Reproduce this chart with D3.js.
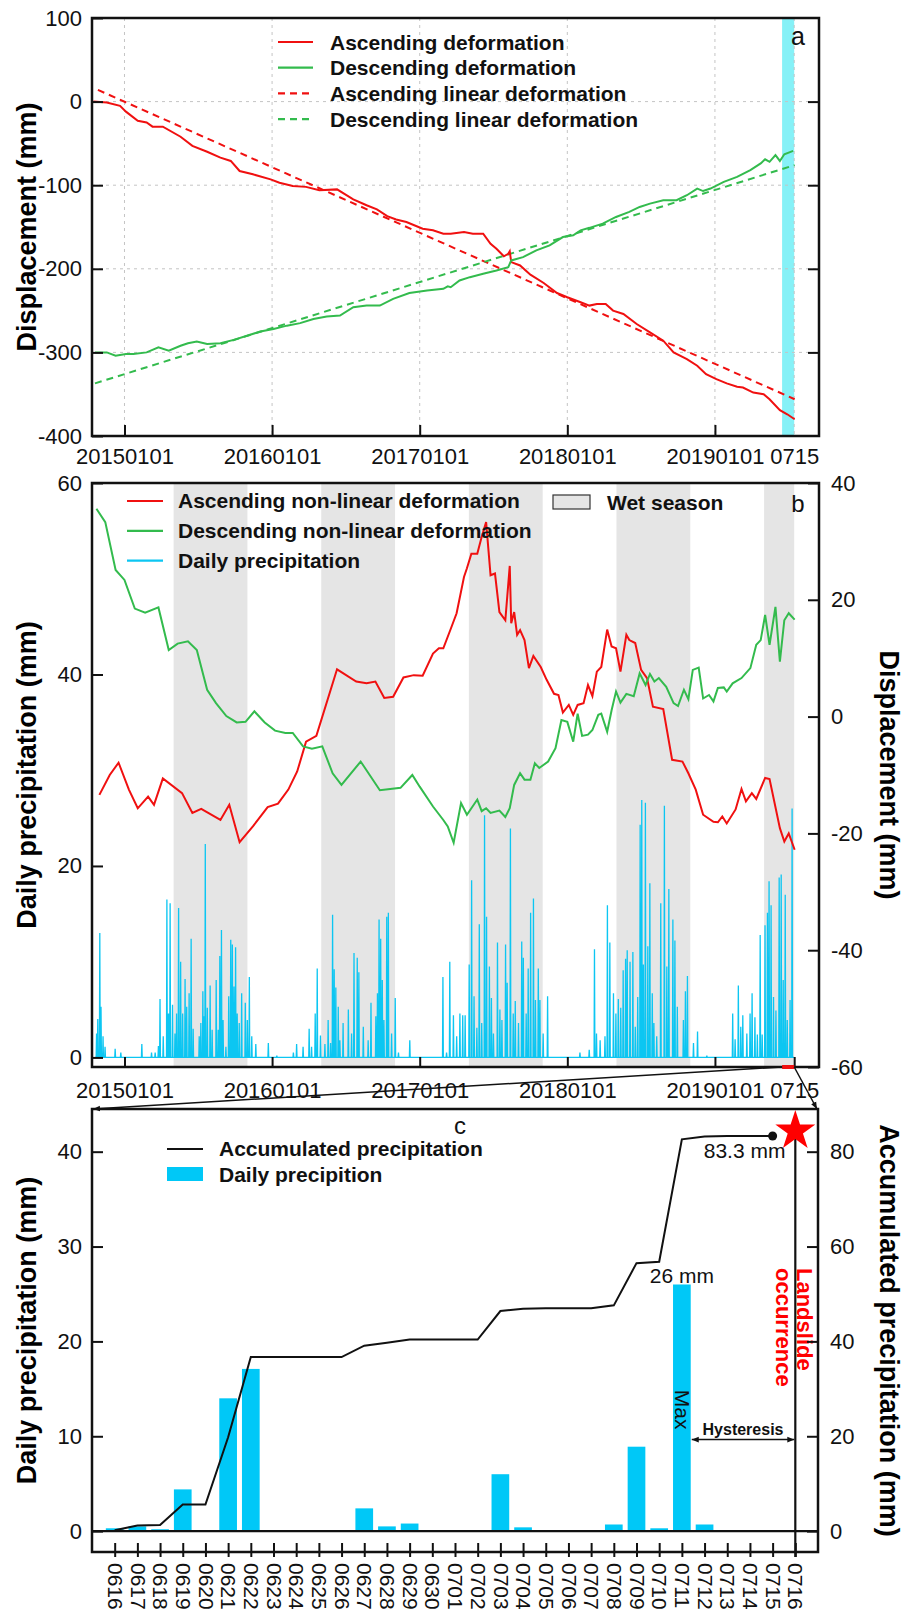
<!DOCTYPE html>
<html>
<head>
<meta charset="utf-8">
<script src="https://cdn.jsdelivr.net/npm/d3@7"></script>
<style>
  body { margin: 0; background: #fff; }
  svg { display: block; }
</style>
</head>
<body>
<div id="chart"></div>
<script>
// ---------- data (x values are decimal years) ----------

// panel a: cumulative displacement (mm)
var ascDef = [[2014.79,0],[2014.88,-1],[2014.97,-5],[2015.01,-12],[2015.09,-23],[2015.15,-25],[2015.19,-30],[2015.26,-30],[2015.38,-42],[2015.46,-53],[2015.56,-60],[2015.65,-67],[2015.72,-71],[2015.78,-83],[2015.87,-87],[2015.99,-93],[2016.05,-97],[2016.14,-101],[2016.23,-102],[2016.32,-106],[2016.44,-105],[2016.55,-117],[2016.64,-124],[2016.71,-129],[2016.78,-137],[2016.84,-141],[2016.91,-144],[2017.02,-152],[2017.09,-154],[2017.16,-158],[2017.21,-158],[2017.30,-156],[2017.36,-158],[2017.43,-158],[2017.48,-170],[2017.52,-176],[2017.57,-185],[2017.60,-182],[2017.61,-179],[2017.62,-192],[2017.68,-196],[2017.75,-207],[2017.84,-217],[2017.93,-229],[2018.00,-234],[2018.09,-240],[2018.15,-244],[2018.20,-242],[2018.26,-242],[2018.31,-250],[2018.38,-254],[2018.47,-266],[2018.56,-276],[2018.65,-286],[2018.72,-300],[2018.81,-308],[2018.88,-316],[2018.94,-326],[2019.01,-332],[2019.08,-337],[2019.15,-341],[2019.19,-342],[2019.26,-348],[2019.33,-350],[2019.37,-356],[2019.44,-369],[2019.49,-374],[2019.54,-380]]
var descDef = [[2014.80,-300],[2014.88,-300],[2014.94,-304],[2015.01,-302],[2015.06,-302],[2015.15,-300],[2015.23,-294],[2015.30,-298],[2015.38,-292],[2015.43,-289],[2015.49,-287],[2015.56,-290],[2015.65,-289],[2015.74,-285],[2015.83,-280],[2015.92,-275],[2016.01,-272],[2016.10,-268],[2016.19,-265],[2016.28,-260],[2016.37,-257],[2016.46,-256],[2016.55,-246],[2016.64,-244],[2016.73,-244],[2016.82,-236],[2016.93,-229],[2017.05,-226],[2017.16,-224],[2017.19,-221],[2017.21,-222],[2017.27,-214],[2017.34,-210],[2017.43,-206],[2017.52,-202],[2017.60,-198],[2017.62,-190],[2017.70,-186],[2017.79,-178],[2017.88,-172],[2017.97,-162],[2018.04,-160],[2018.09,-154],[2018.15,-151],[2018.24,-146],[2018.33,-138],[2018.42,-132],[2018.49,-126],[2018.56,-122],[2018.65,-118],[2018.74,-118],[2018.81,-112],[2018.88,-104],[2018.92,-107],[2018.97,-104],[2019.06,-96],[2019.15,-90],[2019.24,-82],[2019.31,-74],[2019.34,-69],[2019.37,-72],[2019.41,-64],[2019.44,-71],[2019.47,-63],[2019.53,-59]]
var ascLinear = [[2014.82, 14], [2019.54, -356]]
var descLinear = [[2014.80, -337], [2019.54, -76]]
var slideWindow = [2019.455, 2019.537]   // 0616 - 0716

// panel b: non-linear deformation (mm, right axis)
var ascNonLin = [[2014.83,-13.4],[2014.90,-10.0],[2014.96,-7.9],[2015.03,-12.5],[2015.09,-15.7],[2015.16,-13.7],[2015.20,-15.1],[2015.26,-10.6],[2015.39,-13.1],[2015.46,-16.5],[2015.52,-15.8],[2015.65,-17.7],[2015.71,-15.1],[2015.78,-21.5],[2015.87,-18.8],[2015.97,-15.5],[2016.04,-14.9],[2016.11,-12.5],[2016.17,-9.4],[2016.23,-4.3],[2016.30,-3.3],[2016.44,8.1],[2016.57,6.0],[2016.64,5.7],[2016.70,6.0],[2016.76,3.2],[2016.82,3.4],[2016.89,6.7],[2016.96,7.1],[2017.02,7.0],[2017.09,10.8],[2017.13,11.7],[2017.16,11.7],[2017.21,15.0],[2017.25,17.7],[2017.30,23.9],[2017.32,25.4],[2017.35,27.9],[2017.39,27.9],[2017.42,30.8],[2017.45,33.3],[2017.48,24.2],[2017.51,24.5],[2017.54,17.9],[2017.58,16.5],[2017.61,25.8],[2017.62,16.0],[2017.64,17.9],[2017.66,14.0],[2017.68,14.8],[2017.71,13.1],[2017.74,8.3],[2017.77,10.4],[2017.82,8.5],[2017.86,6.3],[2017.91,3.9],[2017.94,3.7],[2017.97,0.7],[2018.01,2.0],[2018.04,0.3],[2018.07,2.0],[2018.11,2.3],[2018.14,5.4],[2018.17,3.5],[2018.20,7.7],[2018.23,8.5],[2018.27,14.9],[2018.30,12.0],[2018.33,11.7],[2018.36,7.7],[2018.40,14.0],[2018.42,13.1],[2018.46,12.6],[2018.50,8.0],[2018.54,6.6],[2018.58,1.7],[2018.65,1.3],[2018.71,-7.4],[2018.78,-7.7],[2018.82,-9.7],[2018.87,-12.5],[2018.92,-16.8],[2018.99,-18.0],[2019.02,-18.1],[2019.05,-17.1],[2019.08,-18.3],[2019.14,-15.9],[2019.18,-12.4],[2019.21,-14.5],[2019.25,-13.1],[2019.28,-14.1],[2019.34,-10.5],[2019.37,-10.7],[2019.44,-19.1],[2019.47,-21.4],[2019.50,-20.0],[2019.54,-22.8]]
var descNonLin = [[2014.81,35.6],[2014.87,33.3],[2014.94,25.1],[2015.00,23.4],[2015.07,18.5],[2015.14,17.8],[2015.23,18.7],[2015.30,11.4],[2015.36,12.5],[2015.43,12.9],[2015.49,11.4],[2015.56,4.6],[2015.62,2.3],[2015.69,0.1],[2015.76,-1.0],[2015.82,-0.9],[2015.88,0.9],[2015.95,-1.0],[2016.02,-2.4],[2016.09,-2.8],[2016.14,-2.8],[2016.21,-5.1],[2016.27,-5.5],[2016.34,-5.1],[2016.41,-9.7],[2016.47,-11.7],[2016.60,-7.7],[2016.73,-12.6],[2016.80,-12.4],[2016.87,-12.2],[2016.95,-10.0],[2017.00,-12.0],[2017.09,-15.4],[2017.16,-17.7],[2017.19,-18.8],[2017.23,-21.6],[2017.28,-14.8],[2017.32,-16.8],[2017.39,-14.2],[2017.42,-16.2],[2017.45,-15.7],[2017.48,-16.5],[2017.54,-16.1],[2017.58,-17.2],[2017.61,-15.7],[2017.64,-11.7],[2017.68,-9.7],[2017.71,-10.8],[2017.75,-10.8],[2017.78,-8.0],[2017.81,-8.8],[2017.87,-7.7],[2017.92,-5.4],[2017.96,-0.6],[2018.00,-0.9],[2018.04,-4.3],[2018.07,0.5],[2018.10,-3.3],[2018.14,-3.1],[2018.17,-2.3],[2018.21,0.3],[2018.23,0.5],[2018.27,-2.6],[2018.30,1.1],[2018.33,4.3],[2018.36,2.4],[2018.40,3.9],[2018.45,3.5],[2018.49,7.4],[2018.53,5.4],[2018.56,7.3],[2018.59,6.0],[2018.62,6.6],[2018.67,5.1],[2018.72,2.3],[2018.75,1.8],[2018.79,4.6],[2018.82,3.0],[2018.85,8.0],[2018.89,8.4],[2018.92,3.1],[2018.96,3.7],[2018.99,2.6],[2019.02,4.9],[2019.06,5.0],[2019.08,4.3],[2019.12,5.7],[2019.18,6.6],[2019.24,8.3],[2019.28,12.3],[2019.31,13.1],[2019.34,17.4],[2019.37,12.3],[2019.41,18.8],[2019.44,9.4],[2019.47,16.5],[2019.50,17.7],[2019.54,16.6]]

// panel b: rainy days (decimal year, mm), all other days are 0
var rainDays = [[2014.812,2.5],[2014.818,4.0],[2014.834,13.0],[2014.841,5.3],[2014.856,2.2],[2014.868,1.1],[2014.936,0.9],[2014.974,0.5],[2015.117,1.4],[2015.184,0.5],[2015.207,0.5],[2015.229,1.2],[2015.241,6.1],[2015.263,2.2],[2015.286,16.5],[2015.297,4.6],[2015.308,16.1],[2015.327,5.5],[2015.342,2.5],[2015.354,4.6],[2015.367,15.6],[2015.381,10.0],[2015.394,4.6],[2015.410,8.2],[2015.421,5.3],[2015.437,6.7],[2015.451,12.4],[2015.466,3.0],[2015.505,2.2],[2015.516,3.6],[2015.530,6.9],[2015.539,4.3],[2015.547,22.3],[2015.561,5.2],[2015.579,7.5],[2015.595,2.9],[2015.620,8.1],[2015.636,2.9],[2015.647,10.6],[2015.656,13.3],[2015.669,3.9],[2015.688,1.1],[2015.706,6.4],[2015.720,12.3],[2015.730,11.8],[2015.742,7.4],[2015.753,11.5],[2015.764,4.6],[2015.778,3.6],[2015.794,6.7],[2015.818,5.7],[2015.832,3.9],[2015.846,8.4],[2015.862,2.2],[2015.891,1.4],[2015.974,1.5],[2016.031,0.2],[2016.144,0.5],[2016.167,1.4],[2016.211,1.1],[2016.252,3.0],[2016.268,1.1],[2016.291,4.6],[2016.306,9.3],[2016.329,2.3],[2016.358,1.4],[2016.381,3.9],[2016.397,1.5],[2016.411,14.9],[2016.421,9.2],[2016.433,7.3],[2016.449,5.3],[2016.460,1.8],[2016.482,3.6],[2016.516,5.0],[2016.539,2.5],[2016.555,10.9],[2016.577,10.4],[2016.589,8.9],[2016.618,3.2],[2016.652,1.8],[2016.670,5.7],[2016.702,4.3],[2016.713,6.7],[2016.724,14.4],[2016.736,12.4],[2016.747,8.1],[2016.758,3.9],[2016.776,14.7],[2016.787,15.1],[2016.810,2.5],[2016.833,6.2],[2016.855,0.5],[2016.934,1.8],[2017.156,8.4],[2017.183,0.5],[2017.205,10.0],[2017.228,4.4],[2017.251,2.2],[2017.273,4.6],[2017.291,4.4],[2017.307,4.4],[2017.334,9.7],[2017.352,18.5],[2017.368,6.4],[2017.386,3.1],[2017.404,13.9],[2017.420,3.6],[2017.438,25.3],[2017.454,14.7],[2017.472,9.5],[2017.485,6.2],[2017.499,2.5],[2017.526,12.0],[2017.544,5.0],[2017.556,3.9],[2017.583,11.8],[2017.593,7.8],[2017.614,23.9],[2017.634,4.6],[2017.648,5.9],[2017.668,3.6],[2017.691,12.1],[2017.702,10.4],[2017.720,4.6],[2017.736,9.3],[2017.752,15.1],[2017.770,16.6],[2017.783,6.0],[2017.804,9.3],[2017.815,6.0],[2017.837,2.5],[2017.867,6.4],[2018.086,0.5],[2018.149,0.8],[2018.183,11.3],[2018.199,2.5],[2018.222,1.8],[2018.255,2.2],[2018.271,15.9],[2018.289,12.0],[2018.312,6.7],[2018.328,4.6],[2018.346,6.1],[2018.362,5.2],[2018.379,9.1],[2018.396,10.3],[2018.407,11.2],[2018.425,10.0],[2018.443,11.0],[2018.461,3.2],[2018.477,6.3],[2018.493,24.3],[2018.504,26.9],[2018.515,9.7],[2018.528,26.6],[2018.545,11.6],[2018.560,18.2],[2018.576,6.7],[2018.587,3.6],[2018.606,2.2],[2018.633,16.1],[2018.657,26.3],[2018.673,9.5],[2018.687,17.6],[2018.714,14.4],[2018.730,12.2],[2018.745,5.3],[2018.786,3.9],[2018.799,6.9],[2018.813,8.5],[2018.854,1.5],[2018.881,2.7],[2018.944,0.2],[2019.121,4.6],[2019.136,1.9],[2019.159,7.5],[2019.175,3.2],[2019.188,4.4],[2019.215,2.5],[2019.238,4.6],[2019.253,6.7],[2019.272,4.2],[2019.287,2.4],[2019.306,12.8],[2019.321,2.4],[2019.339,13.8],[2019.355,15.1],[2019.367,18.4],[2019.380,15.9],[2019.396,6.3],[2019.412,4.9],[2019.434,18.8],[2019.448,19.1],[2019.463,8.1],[2019.475,17.0],[2019.490,3.9],[2019.509,6.0],[2019.524,26.0]]
var rainStart = 2014.80
var rainEnd = 2019.537
var wetSeasons = [[2015.333, 2015.833], [2016.333, 2016.833], [2017.333, 2017.833], [2018.333, 2018.833], [2019.333, 2019.537]]

// time axis ticks shared by a and b
var timeTicks = [2015, 2016, 2017, 2018, 2019, 2019.537]
var timeLabels = ['20150101', '20160101', '20170101', '20180101', '20190101', '0715']

// panel c
var days = ['0616','0617','0618','0619','0620','0621','0622','0623','0624','0625','0626','0627','0628','0629','0630',
  '0701','0702','0703','0704','0705','0706','0707','0708','0709','0710','0711','0712','0713','0714','0715','0716']
var dailyRain = [0.3,0.5,0.2,4.4,0,14.0,17.1,0,0,0,0,2.4,0.5,0.8,0,0,0,6.0,0.4,0,0,0,0.7,8.9,0.3,26.0,0.7,0,0,0,0]
var accumRain = [0.2,1.2,1.3,5.6,5.6,19.8,36.7,36.7,36.7,36.7,36.7,39.1,39.7,40.4,40.4,40.4,40.4,46.4,46.9,47.0,47.0,47.0,47.6,56.5,56.8,82.6,83.2,83.3,83.3,83.3]

// ---------- drawing ----------
var W = 906, H = 1614
var FONT = '"Liberation Sans", Arial, sans-serif'
var RED = '#f01010', GREEN = '#33bb4d', BLUE = '#0cc6f2', BAR = '#00c8f7'
var left = 92, right = 819

var svg = d3.select('#chart').append('svg')
  .attr('width', W).attr('height', H)
  .attr('font-family', FONT)

var defs = svg.append('defs')
defs.append('marker').attr('id', 'arrow')
  .attr('viewBox', '0 -5 10 10').attr('refX', 10).attr('refY', 0)
  .attr('markerWidth', 7).attr('markerHeight', 7).attr('markerUnits', 'userSpaceOnUse')
  .attr('orient', 'auto-start-reverse')
  .append('path').attr('d', 'M0,-4L10,0L0,4Z').attr('fill', '#111')

var x = d3.scaleLinear().domain([2014.78, 2019.705]).range([left, right])

function styleAxis(g, size) {
  g.attr('font-family', FONT).attr('font-size', size || 22)
  g.select('.domain').remove()
  g.selectAll('.tick line').attr('stroke', '#111').attr('stroke-width', 2)
  g.selectAll('.tick text').attr('fill', '#111')
}

function frame(y0, y1, x1) {
  svg.append('rect')
    .attr('x', left).attr('y', y0)
    .attr('width', (x1 || right) - left).attr('height', y1 - y0)
    .attr('fill', 'none').attr('stroke', '#111').attr('stroke-width', 2.5)
}

// ===== panel a =====
var aTop = 18, aBot = 436
var yA = d3.scaleLinear().domain([-400, 100]).range([aBot, aTop])

svg.append('rect')
  .attr('x', x(slideWindow[0])).attr('y', aTop)
  .attr('width', x(slideWindow[1]) - x(slideWindow[0])).attr('height', aBot - aTop)
  .attr('fill', '#86f1f7')

var gridA = svg.append('g').attr('stroke', '#c4c4c4').attr('stroke-dasharray', '3,4')
gridA.selectAll('line.v').data(timeTicks).join('line').attr('class', 'v')
  .attr('x1', d => x(d)).attr('x2', d => x(d)).attr('y1', aTop).attr('y2', aBot)
gridA.selectAll('line.h').data([-300, -200, -100, 0]).join('line').attr('class', 'h')
  .attr('x1', left).attr('x2', right).attr('y1', d => yA(d)).attr('y2', d => yA(d))

var lineA = d3.line().x(d => x(d[0])).y(d => yA(d[1]))
svg.append('path').datum(ascLinear).attr('d', lineA)
  .attr('fill', 'none').attr('stroke', RED).attr('stroke-width', 2).attr('stroke-dasharray', '7,5')
svg.append('path').datum(descLinear).attr('d', lineA)
  .attr('fill', 'none').attr('stroke', GREEN).attr('stroke-width', 2).attr('stroke-dasharray', '7,5')
svg.append('path').datum(ascDef).attr('d', lineA)
  .attr('fill', 'none').attr('stroke', RED).attr('stroke-width', 2)
svg.append('path').datum(descDef).attr('d', lineA)
  .attr('fill', 'none').attr('stroke', GREEN).attr('stroke-width', 2)

frame(aTop, aBot)

svg.append('g').attr('transform', `translate(${left},0)`)
  .call(d3.axisLeft(yA).tickValues(d3.range(-400, 101, 100)).tickSizeInner(-11).tickSizeOuter(0)
    .tickPadding(10).tickFormat(d => String(d)))
  .call(styleAxis)
svg.append('g').attr('transform', `translate(${right},0)`)
  .call(d3.axisRight(yA).tickValues([-300, -200, -100, 0]).tickSizeInner(-11).tickSizeOuter(0).tickFormat(''))
  .call(styleAxis)
var axA = svg.append('g').attr('transform', `translate(0,${aBot})`)
  .call(d3.axisBottom(x).tickValues(timeTicks).tickSizeInner(-11).tickSizeOuter(0)
    .tickPadding(12).tickFormat((d, i) => timeLabels[i]))
  .call(styleAxis)
axA.selectAll('.tick line').filter((d, i) => i === timeTicks.length - 1).remove()

svg.append('text').attr('transform', `translate(36,${(aTop + aBot) / 2}) rotate(-90)`)
  .attr('text-anchor', 'middle').attr('font-size', 27).attr('font-weight', 'bold')
  .text('Displacement (mm)')

var legA = [
  {label: 'Ascending deformation', color: RED, dash: null},
  {label: 'Descending deformation', color: GREEN, dash: null},
  {label: 'Ascending linear deformation', color: RED, dash: '7,5'},
  {label: 'Descending linear deformation', color: GREEN, dash: '7,5'}
]
var legAg = svg.append('g').selectAll('g').data(legA).join('g')
  .attr('transform', (d, i) => `translate(278,${42 + i * 25.7})`)
legAg.append('line').attr('x1', 0).attr('x2', 35)
  .attr('stroke', d => d.color).attr('stroke-width', 2.2).attr('stroke-dasharray', d => d.dash)
legAg.append('text').attr('x', 52).attr('y', 7.5)
  .attr('font-size', 21).attr('font-weight', 'bold').attr('fill', '#111')
  .text(d => d.label)

svg.append('text').attr('x', 798).attr('y', 45).attr('text-anchor', 'middle')
  .attr('font-size', 25).attr('fill', '#111').text('a')

// ===== panel b =====
var bTop = 483, bBot = 1067
var yP = d3.scaleLinear().domain([-1, 60]).range([bBot, bTop])
var yD = d3.scaleLinear().domain([-60, 40]).range([bBot, bTop])

svg.append('g').selectAll('rect').data(wetSeasons).join('rect')
  .attr('x', d => x(d[0])).attr('width', d => x(d[1]) - x(d[0]))
  .attr('y', bTop).attr('height', bBot - bTop)
  .attr('fill', '#e5e5e5')

var nDays = Math.round((rainEnd - rainStart) * 365.25) + 1
var rainSeries = d3.range(nDays).map(i => [rainStart + i / 365.25, 0])
rainDays.forEach(function(r) {
  var i = Math.round((r[0] - rainStart) * 365.25)
  if (i >= 0 && i < nDays) rainSeries[i][1] = Math.max(rainSeries[i][1], r[1])
})
svg.append('path').datum(rainSeries)
  .attr('d', d3.line().x(d => x(d[0])).y(d => yP(d[1])))
  .attr('fill', 'none').attr('stroke', BLUE).attr('stroke-width', 1.3)

var lineB = d3.line().x(d => x(d[0])).y(d => yD(d[1]))
svg.append('path').datum(ascNonLin).attr('d', lineB)
  .attr('fill', 'none').attr('stroke', RED).attr('stroke-width', 2)
svg.append('path').datum(descNonLin).attr('d', lineB)
  .attr('fill', 'none').attr('stroke', GREEN).attr('stroke-width', 2)

frame(bTop, bBot)

svg.append('g').attr('transform', `translate(${left},0)`)
  .call(d3.axisLeft(yP).tickValues([0, 20, 40, 60]).tickSizeInner(-11).tickSizeOuter(0).tickPadding(10))
  .call(styleAxis)
svg.append('g').attr('transform', `translate(${right},0)`)
  .call(d3.axisRight(yD).tickValues(d3.range(-60, 41, 20)).tickSizeInner(-11).tickSizeOuter(0)
    .tickPadding(12).tickFormat(d => String(d)))
  .call(styleAxis)
svg.append('g').attr('transform', `translate(0,${bBot})`)
  .call(d3.axisBottom(x).tickValues(timeTicks).tickSizeInner(-10).tickSizeOuter(0)
    .tickPadding(15).tickFormat((d, i) => timeLabels[i]))
  .call(styleAxis)

// highlighted month on the time axis
svg.append('line')
  .attr('x1', x(slideWindow[0])).attr('x2', x(slideWindow[1]))
  .attr('y1', bBot).attr('y2', bBot)
  .attr('stroke', RED).attr('stroke-width', 4)

svg.append('text').attr('transform', `translate(36,${(bTop + bBot) / 2}) rotate(-90)`)
  .attr('text-anchor', 'middle').attr('font-size', 27).attr('font-weight', 'bold')
  .text('Daily precipitation (mm)')
svg.append('text').attr('transform', `translate(880,${(bTop + bBot) / 2}) rotate(90)`)
  .attr('text-anchor', 'middle').attr('font-size', 27).attr('font-weight', 'bold')
  .text('Displacement (mm)')

var legB = [
  {label: 'Ascending non-linear deformation', color: RED},
  {label: 'Descending non-linear deformation', color: GREEN},
  {label: 'Daily precipitation', color: BLUE}
]
var legBg = svg.append('g').selectAll('g').data(legB).join('g')
  .attr('transform', (d, i) => `translate(127,${501 + i * 29.8})`)
legBg.append('line').attr('x1', 0).attr('x2', 36)
  .attr('stroke', d => d.color).attr('stroke-width', 2.2)
legBg.append('text').attr('x', 51).attr('y', 7)
  .attr('font-size', 21).attr('font-weight', 'bold').attr('fill', '#111')
  .text(d => d.label)

svg.append('rect').attr('x', 553).attr('y', 495).attr('width', 37).attr('height', 14)
  .attr('fill', '#e5e5e5').attr('stroke', '#333').attr('stroke-width', 1.2)
svg.append('text').attr('x', 607).attr('y', 510)
  .attr('font-size', 21).attr('font-weight', 'bold').attr('fill', '#111').text('Wet season')

svg.append('text').attr('x', 798).attr('y', 512).attr('text-anchor', 'middle')
  .attr('font-size', 24).attr('fill', '#111').text('b')

// ===== panel c =====
var cTop = 1109, cBot = 1552, cRight = 818
var xC = d3.scalePoint().domain(days).range([left, cRight]).padding(1)
var yC = d3.scaleLinear().domain([-2.2, 44.5]).range([cBot, cTop])
var yAcc = d3.scaleLinear().domain([-4.4, 89]).range([cBot, cTop])
var barW = xC.step() * 0.78

// connectors from the highlighted month to panel c
svg.append('line')
  .attr('x1', x(slideWindow[0])).attr('y1', bBot).attr('x2', left + 1).attr('y2', cTop)
  .attr('stroke', '#111').attr('stroke-width', 1.5).attr('marker-end', 'url(#arrow)')
svg.append('line')
  .attr('x1', x(slideWindow[1])).attr('y1', bBot).attr('x2', cRight - 1).attr('y2', cTop)
  .attr('stroke', '#111').attr('stroke-width', 1.5).attr('marker-end', 'url(#arrow)')

svg.append('g').selectAll('rect').data(days.map((d, i) => ({day: d, v: dailyRain[i]})).filter(d => d.v > 0))
  .join('rect')
  .attr('x', d => xC(d.day) - barW / 2).attr('width', barW)
  .attr('y', d => yC(d.v)).attr('height', d => yC(0) - yC(d.v))
  .attr('fill', BAR)

var accPts = accumRain.map((v, i) => [days[i], v])
svg.append('path').datum(accPts)
  .attr('d', d3.line().x(d => xC(d[0])).y(d => yAcc(d[1])))
  .attr('fill', 'none').attr('stroke', '#111').attr('stroke-width', 2)
var lastAcc = accPts[accPts.length - 1]
svg.append('circle').attr('cx', xC(lastAcc[0])).attr('cy', yAcc(lastAcc[1])).attr('r', 4.5).attr('fill', '#111')
svg.append('text').attr('x', xC(lastAcc[0]) - 28).attr('y', yAcc(lastAcc[1]) + 22)
  .attr('text-anchor', 'middle').attr('font-size', 21).attr('fill', '#111')
  .text(d3.format('.1f')(lastAcc[1]) + ' mm')

// maximum daily rainfall
var maxIdx = d3.maxIndex(dailyRain)
var maxX = xC(days[maxIdx])
svg.append('text').attr('x', maxX).attr('y', yC(dailyRain[maxIdx]) - 1)
  .attr('text-anchor', 'middle').attr('font-size', 21).attr('fill', '#111')
  .text(dailyRain[maxIdx] + ' mm')
svg.append('text').attr('transform', `translate(${maxX},${yC(12.8)}) rotate(90)`)
  .attr('text-anchor', 'middle').attr('dy', '0.35em').attr('font-size', 21).attr('fill', '#111')
  .text('Max')

// zero line and frame
svg.append('line').attr('x1', left).attr('x2', cRight).attr('y1', yC(0)).attr('y2', yC(0))
  .attr('stroke', '#111').attr('stroke-width', 2.2)
frame(cTop, cBot, cRight)

// landslide day
var slideX = xC('0716')
svg.append('line').attr('x1', slideX).attr('x2', slideX).attr('y1', cTop + 22).attr('y2', cBot + 5)
  .attr('stroke', '#111').attr('stroke-width', 2.2)
svg.append('path').attr('d', d3.symbol(d3.symbolStar, 495)())
  .attr('transform', `translate(${slideX},1131)`).attr('fill', '#ff0000')
svg.append('text').attr('transform', `translate(${slideX + 1.5},1268) rotate(90)`)
  .attr('font-size', 22).attr('font-weight', 'bold').attr('fill', '#ff0000').text('Landslide')
svg.append('text').attr('transform', `translate(${slideX - 19},1268) rotate(90)`)
  .attr('font-size', 22).attr('font-weight', 'bold').attr('fill', '#ff0000').text('occurrence')

// hysteresis between max rainfall and landslide
var hx1 = maxX + barW / 2 + 1, hx2 = slideX - 1, hy = yAcc(19.3)
svg.append('line').attr('x1', hx1).attr('x2', hx2).attr('y1', hy).attr('y2', hy)
  .attr('stroke', '#111').attr('stroke-width', 1.5)
  .attr('marker-start', 'url(#arrow)').attr('marker-end', 'url(#arrow)')
svg.append('text').attr('x', (hx1 + hx2) / 2).attr('y', hy - 5)
  .attr('text-anchor', 'middle').attr('font-size', 16).attr('font-weight', 'bold').attr('fill', '#111')
  .text('Hysteresis')

svg.append('g').attr('transform', `translate(${left},0)`)
  .call(d3.axisLeft(yC).tickValues([0, 10, 20, 30, 40]).tickSizeInner(-11).tickSizeOuter(0).tickPadding(10))
  .call(styleAxis)
svg.append('g').attr('transform', `translate(${cRight},0)`)
  .call(d3.axisRight(yAcc).tickValues([0, 20, 40, 60, 80]).tickSizeInner(-11).tickSizeOuter(0).tickPadding(12))
  .call(styleAxis)
var axC = svg.append('g').attr('transform', `translate(0,${cBot})`)
  .call(d3.axisBottom(xC).tickSizeInner(5).tickSizeOuter(0))
  .call(g => styleAxis(g, 21))
axC.selectAll('.tick line').attr('y1', -9)
axC.selectAll('.tick text')
  .attr('transform', 'rotate(90)').attr('x', 11).attr('y', 0).attr('dy', '0.35em')
  .attr('text-anchor', 'start')

svg.append('text').attr('transform', `translate(36,${(cTop + cBot) / 2}) rotate(-90)`)
  .attr('text-anchor', 'middle').attr('font-size', 27).attr('font-weight', 'bold')
  .text('Daily precipitation (mm)')
svg.append('text').attr('transform', `translate(880,${(cTop + cBot) / 2}) rotate(90)`)
  .attr('text-anchor', 'middle').attr('font-size', 27).attr('font-weight', 'bold')
  .text('Accumulated precipitation (mm)')

// legend c
svg.append('line').attr('x1', 167).attr('x2', 203).attr('y1', 1149).attr('y2', 1149)
  .attr('stroke', '#111').attr('stroke-width', 2.2)
svg.append('text').attr('x', 219).attr('y', 1156)
  .attr('font-size', 21).attr('font-weight', 'bold').attr('fill', '#111').text('Accumulated precipitation')
svg.append('rect').attr('x', 167).attr('y', 1167).attr('width', 36).attr('height', 14).attr('fill', BAR)
svg.append('text').attr('x', 219).attr('y', 1182)
  .attr('font-size', 21).attr('font-weight', 'bold').attr('fill', '#111').text('Daily precipition')

svg.append('text').attr('x', 460).attr('y', 1134).attr('text-anchor', 'middle')
  .attr('font-size', 24).attr('fill', '#111').text('c')
</script>
</body>
</html>
